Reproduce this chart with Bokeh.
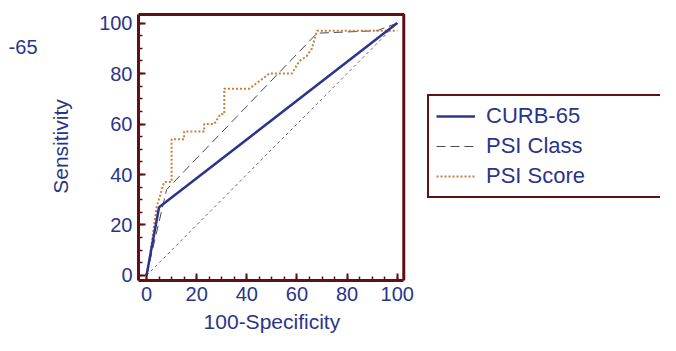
import math
from bokeh.plotting import figure
from bokeh.models import (Range1d, SingleIntervalTicker, FixedTicker, Legend, LegendItem,
                          LinearAxis, BoxAnnotation)
from bokeh.embed import file_html
from bokeh.resources import INLINE

# data
curb_x = [0, 5, 100]
curb_y = [0, 27, 100]
psic_x = [0, 8, 68, 92, 100]
psic_y = [0, 34, 96, 97, 100]
psis_x = [0, 1, 4, 7, 10, 10, 15, 15, 23, 23, 27, 29.5, 31, 31, 41, 45, 49, 58, 61, 64, 66, 68, 100]
psis_y = [0, 5, 27, 37, 37, 54, 54, 57, 57, 60, 60, 64, 64, 74, 74, 77, 80, 80, 85, 87, 90, 97, 97]
ref_x = [0, 100]
ref_y = [0, 100]
series_names = ["CURB-65", "PSI Class", "PSI Score"]
x_label = "100-Specificity"
y_label = "Sensitivity"
corner_text = "-65"

NAVY = "#29358a"
MAROON = "#5e1014"
FONT = "Liberation Sans"

X0, X1 = -3.2, 102.6   # plot box in data units
Y0, Y1 = -2.0, 103.4

p = figure(width=660, height=335, output_backend="svg", toolbar_location=None,
           x_range=Range1d(X0, 205.0), y_range=Range1d(Y0, 104.2),
           min_border_left=138, min_border_right=0, min_border_top=12, min_border_bottom=55)
p.background_fill_color = "white"
p.border_fill_color = "white"
p.outline_line_color = None
p.xgrid.visible = False
p.ygrid.visible = False

for ax in (p.xaxis[0], p.yaxis[0]):
    ax.ticker = SingleIntervalTicker(interval=20, num_minor_ticks=4)
    ax.axis_line_color = MAROON
    ax.axis_line_width = 3
    ax.major_tick_line_color = MAROON
    ax.major_tick_line_width = 2
    ax.major_tick_in = 7
    ax.major_tick_out = 0
    ax.minor_tick_line_color = MAROON
    ax.minor_tick_line_width = 1.5
    ax.minor_tick_in = 4
    ax.minor_tick_out = 0
    ax.major_label_text_color = NAVY
    ax.major_label_text_font = FONT
    ax.major_label_text_font_size = "20px"
    ax.axis_label_text_color = NAVY
    ax.axis_label_text_font = FONT
    ax.axis_label_text_font_size = "21px"
    ax.axis_label_text_font_style = "normal"
p.xaxis.bounds = (X0, X1)
p.yaxis.bounds = (Y0, Y1)
p.xaxis.major_label_standoff = 6
p.yaxis.major_label_standoff = 6
p.yaxis.axis_label = y_label
p.yaxis.axis_label_standoff = 24

# x axis title, drawn as a label of an outer axis centred under the plot box
xlabel_axis = LinearAxis(ticker=FixedTicker(ticks=[50]),
                         major_label_overrides={50: x_label},
                         axis_line_color=None, major_tick_line_color=None,
                         minor_tick_line_color=None, major_label_standoff=0,
                         major_label_text_font=FONT, major_label_text_font_size="21px",
                         major_label_text_color=NAVY)
p.add_layout(xlabel_axis, "below")

# plot box (top and right edges)
p.add_layout(BoxAnnotation(left=X0, right=X1, bottom=Y0, top=Y1, fill_alpha=0,
                           line_color=MAROON, line_alpha=1, line_width=3))

# stray text at top-left, rendered as an outer axis tick label
corner_axis = LinearAxis(ticker=FixedTicker(ticks=[90.4]),
                         major_label_overrides={90.4: corner_text},
                         axis_line_color=None, major_tick_line_color=None,
                         minor_tick_line_color=None, major_label_standoff=3,
                         major_label_text_font=FONT, major_label_text_font_size="20px",
                         major_label_text_color=NAVY)
p.add_layout(corner_axis, "left")

p.line(ref_x, ref_y, line_color="#6a6a6a", line_width=1, line_dash="3 3")
r_psic = p.line(psic_x, psic_y, line_color="#4a4a4a", line_width=1, line_dash="9 5")
r_psis = p.line(psis_x, psis_y, line_color="#cc7d3a", line_width=2, line_dash="2 2")
r_curb = p.line(curb_x, curb_y, line_color="#2b3590", line_width=2.5)

legend = Legend(items=[LegendItem(label=series_names[0], renderers=[r_curb]),
                       LegendItem(label=series_names[1], renderers=[r_psic]),
                       LegendItem(label=series_names[2], renderers=[r_psis])],
                location=(289, 82), margin=0, padding=7, spacing=4,
                glyph_width=39, glyph_height=22, label_height=22, label_width=190,
                label_standoff=11,
                label_text_font=FONT, label_text_font_size="22px", label_text_color=NAVY,
                border_line_color=MAROON, border_line_alpha=1, border_line_width=2,
                background_fill_color="white", background_fill_alpha=1)
p.add_layout(legend, "center")

open("out.html", "w").write(file_html(p, INLINE))
